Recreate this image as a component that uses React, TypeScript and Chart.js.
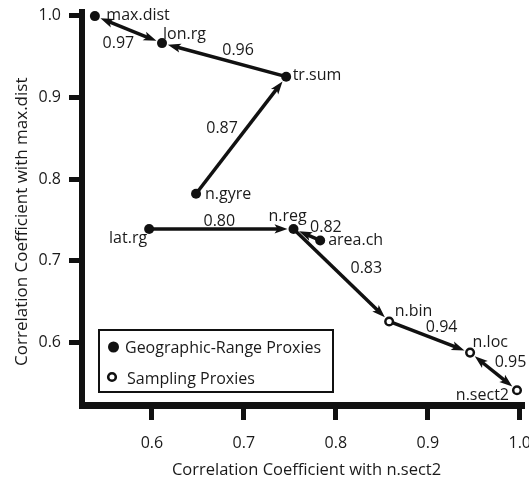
import { useEffect, useRef } from 'react';
import { Chart, registerables } from 'chart.js';

Chart.register(...registerables);

// ---- data ----
const geoNames = ['max.dist', 'lon.rg', 'tr.sum', 'n.gyre', 'lat.rg', 'n.reg', 'area.ch'];
const geoX = [0.538, 0.611, 0.746, 0.648, 0.597, 0.754, 0.783];
const geoY = [0.999, 0.966, 0.925, 0.782, 0.739, 0.739, 0.725];

const sampNames = ['n.bin', 'n.loc', 'n.sect2'];
const sampX = [0.858, 0.946, 0.997];
const sampY = [0.626, 0.588, 0.542];

const edgeFrom = ['lon.rg', 'tr.sum', 'n.gyre', 'lat.rg', 'area.ch', 'n.reg', 'n.bin', 'n.loc'];
const edgeTo = ['max.dist', 'lon.rg', 'tr.sum', 'n.reg', 'n.reg', 'n.bin', 'n.loc', 'n.sect2'];
const edgeValues = ['0.97', '0.96', '0.87', '0.80', '0.82', '0.83', '0.94', '0.95'];
const edgeBothHeads = [true, false, false, false, false, false, false, true];

const tickValues = [0.6, 0.7, 0.8, 0.9, 1.0];

const xTitle = '  Correlation Coefficient with n.sect2';
const yTitle = 'Correlation Coefficient with max.dist      ';
const geoLabel = 'Geographic-Range Proxies';
const sampLabel = 'Sampling Proxies';

// ---- layout (pixel offsets for text) ----
const FONT = '"Open Sans", "DejaVu Sans", sans-serif';
const INK = '#111111';
const TEXT = '#1a1a1a';
const nodeLabelLayout: Record<string, [number, number, CanvasTextAlign]> = {
  'max.dist': [11.5, 3.5, 'left'],
  'lon.rg': [1, -4.5, 'left'],
  'tr.sum': [6.5, 3.7, 'left'],
  'n.gyre': [9, 5.3, 'left'],
  'lat.rg': [-2, 14, 'right'],
  'n.reg': [-25, -7.6, 'left'],
  'area.ch': [8, 4.5, 'left'],
  'n.bin': [5.5, -5.7, 'left'],
  'n.loc': [2.5, -6, 'left'],
  'n.sect2': [-8, 10, 'right'],
};
const edgeLabelOffset: [number, number][] = [
  [-10, 13], [14, -11], [-19, -8], [-2, -9], [19, -8], [25, -8], [12, -11], [17, -10],
];

function drawHead(ctx: CanvasRenderingContext2D, tx: number, ty: number, ux: number, uy: number) {
  const len = 13;
  const hw = 4.6;
  const notch = 3;
  const bx = tx - ux * len;
  const by = ty - uy * len;
  const px = -uy;
  const py = ux;
  ctx.beginPath();
  ctx.moveTo(tx, ty);
  ctx.lineTo(bx + px * hw, by + py * hw);
  ctx.lineTo(tx - ux * (len - notch), ty - uy * (len - notch));
  ctx.lineTo(bx - px * hw, by - py * hw);
  ctx.closePath();
  ctx.fill();
}

function nodePixels(chart: any): Record<string, [number, number]> {
  const { scales } = chart;
  const pos: Record<string, [number, number]> = {};
  geoNames.forEach((n, i) => (pos[n] = [scales.x.getPixelForValue(geoX[i]), scales.y.getPixelForValue(geoY[i])]));
  sampNames.forEach((n, i) => (pos[n] = [scales.x.getPixelForValue(sampX[i]), scales.y.getPixelForValue(sampY[i])]));
  return pos;
}

const graphPlugin = {
  id: 'graphPlugin',
  beforeDatasetsDraw(chart: any) {
    const { ctx } = chart;
    const pos = nodePixels(chart);
    ctx.save();
    ctx.strokeStyle = INK;
    ctx.fillStyle = INK;
    ctx.lineWidth = 3.5;
    ctx.lineCap = 'butt';
    edgeFrom.forEach((from, i) => {
      const [x1, y1] = pos[from];
      const [x2, y2] = pos[edgeTo[i]];
      const dx = x2 - x1;
      const dy = y2 - y1;
      const d = Math.hypot(dx, dy);
      const ux = dx / d;
      const uy = dy / d;
      const gap = 6;
      const tx = x2 - ux * gap;
      const ty = y2 - uy * gap;
      const both = edgeBothHeads[i];
      const sx = both ? x1 + ux * gap : x1;
      const sy = both ? y1 + uy * gap : y1;
      ctx.beginPath();
      ctx.moveTo(both ? sx + ux * 9 : sx, both ? sy + uy * 9 : sy);
      ctx.lineTo(tx - ux * 9, ty - uy * 9);
      ctx.stroke();
      drawHead(ctx, tx, ty, ux, uy);
      if (both) drawHead(ctx, sx, sy, -ux, -uy);
    });
    ctx.restore();
  },
  afterDatasetsDraw(chart: any) {
    const { ctx, chartArea } = chart;
    const pos = nodePixels(chart);
    ctx.save();
    ctx.fillStyle = TEXT;
    ctx.font = `16px ${FONT}`;
    ctx.textBaseline = 'alphabetic';
    Object.keys(pos).forEach((n) => {
      const [dx, dy, align] = nodeLabelLayout[n];
      ctx.textAlign = align;
      ctx.fillText(n, pos[n][0] + dx, pos[n][1] + dy);
    });
    ctx.textAlign = 'center';
    edgeFrom.forEach((from, i) => {
      const [x1, y1] = pos[from];
      const [x2, y2] = pos[edgeTo[i]];
      const [ox, oy] = edgeLabelOffset[i];
      ctx.fillText(edgeValues[i], (x1 + x2) / 2 + ox, (y1 + y2) / 2 + oy + 5.7);
    });

    // legend
    const bl = chartArea.left + 17;
    const bt = chartArea.bottom - 75;
    const bw = 234;
    const bh = 62;
    ctx.strokeStyle = INK;
    ctx.lineWidth = 2;
    ctx.strokeRect(bl, bt, bw, bh);
    ctx.fillStyle = INK;
    ctx.beginPath();
    ctx.arc(bl + 14.5, bt + 17, 5.5, 0, Math.PI * 2);
    ctx.fill();
    ctx.beginPath();
    ctx.lineWidth = 2.6;
    ctx.fillStyle = '#fff';
    ctx.arc(bl + 13, bt + 47, 3.8, 0, Math.PI * 2);
    ctx.fill();
    ctx.stroke();
    ctx.fillStyle = TEXT;
    ctx.textAlign = 'left';
    ctx.fillText(geoLabel, bl + 26, bt + 23);
    ctx.fillText(sampLabel, bl + 28, bt + 54);
    ctx.restore();
  },
};

export default function App() {
  const ref = useRef<HTMLCanvasElement | null>(null);
  useEffect(() => {
    if (!ref.current) return;
    const tickFont = { family: FONT, size: 16 };
    const chart = new Chart(ref.current, {
      type: 'scatter',
      data: {
        datasets: [
          {
            label: geoLabel,
            data: geoX.map((x, i) => ({ x, y: geoY[i] })),
            pointRadius: 5,
            pointBackgroundColor: INK,
            pointBorderColor: INK,
            pointBorderWidth: 0,
            clip: false as any,
          },
          {
            label: sampLabel,
            data: sampX.map((x, i) => ({ x, y: sampY[i] })),
            pointRadius: 3.8,
            pointBackgroundColor: '#ffffff',
            pointBorderColor: INK,
            pointBorderWidth: 2.5,
            clip: false as any,
          },
        ],
      },
      options: {
        animation: false,
        responsive: false,
        maintainAspectRatio: false,
        events: [],
        layout: { padding: { left: 0, top: 12, right: 6, bottom: 0 } },
        plugins: { legend: { display: false }, tooltip: { enabled: false } },
        scales: {
          x: {
            type: 'linear',
            min: 0.524,
            max: 1.003,
            afterBuildTicks: (s: any) => {
              s.ticks = tickValues.map((v) => ({ value: v }));
            },
            afterFit: (s: any) => {
              s.height = 78;
              s.paddingLeft = 0;
              s.paddingRight = 0;
            },
            grid: { drawOnChartArea: false, drawTicks: true, tickLength: 15, lineWidth: 5, color: INK },
            border: { display: true, width: 7, color: INK },
            ticks: {
              font: tickFont,
              color: TEXT,
              padding: 14,
              maxRotation: 0,
              callback: (v: any) => Number(v).toFixed(1),
            },
            title: {
              display: true,
              text: xTitle,
              font: { family: FONT, size: 16.5 },
              color: TEXT,
              padding: { top: 0, bottom: 3 },
            },
          },
          y: {
            type: 'linear',
            min: 0.524,
            max: 1.004,
            afterBuildTicks: (s: any) => {
              s.ticks = tickValues.map((v) => ({ value: v }));
            },
            afterFit: (s: any) => {
              s.width = 82;
              s.paddingTop = 0;
              s.paddingBottom = 0;
            },
            grid: { drawOnChartArea: false, drawTicks: true, tickLength: 13, lineWidth: 5, color: INK },
            border: { display: true, width: 6, color: INK },
            ticks: {
              font: tickFont,
              color: TEXT,
              padding: 8,
              callback: (v: any) => Number(v).toFixed(1),
            },
            title: {
              display: true,
              text: yTitle,
              font: { family: FONT, size: 17 },
              color: TEXT,
              padding: { top: 11.5, bottom: 0 },
            },
          },
        },
      },
      plugins: [graphPlugin],
    });
    return () => chart.destroy();
  }, []);
  return (
    <div style={{ position: 'absolute', left: 0, top: 0, width: 529, height: 483, background: '#fff' }}>
      <canvas ref={ref} width={529} height={483} style={{ display: 'block' }} />
    </div>
  );
}
